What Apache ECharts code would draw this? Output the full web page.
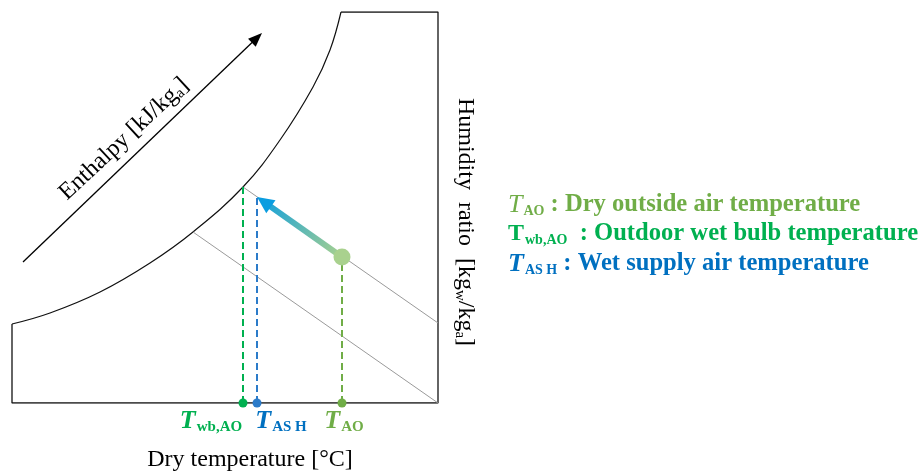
<!DOCTYPE html>
<html>
<head>
<meta charset="utf-8">
<script src="https://cdn.jsdelivr.net/npm/echarts@6/dist/echarts.min.js"></script>
<style>
  html, body { margin: 0; padding: 0; background: #fff; }
  #chart { width: 921px; height: 473px; }
</style>
</head>
<body>
<div id="chart"></div>
<script>
// Schematic psychrometric chart: dry temperature (x) vs humidity ratio (y)
const tempMax = 42.6;
const humMax = 39.1;

// Saturation curve points
const satTemp = [0, 3.8, 8.8, 13.8, 18.1, 23.1, 26.8, 30.1, 31.8, 32.9];
const satHum  = [7.9, 9.0, 11.1, 14.0, 17.1, 21.6, 26.3, 31.6, 35.3, 39.1];

// Two constant wet-bulb lines
const wetBulbA = [[18.1, 17.1], [42.6, 0]];
const wetBulbB = [[23.1, 21.6], [42.6, 8.0]];

// Enthalpy direction arrow
const enthalpyArrow = [1.1, 14.1, 25.0, 37.0];

// State points: wet bulb of outside air, wet supply air, dry outside air
const stateKeys = ['wb', 'ASH', 'AO'];
const stateTemp = [23.1, 24.5, 33.0];
const stateHum  = [21.6, 20.6, 14.6];

const serif = '"Liberation Serif", "Times New Roman", serif';
const C = { light: '#70ad47', green: '#00b050', blue: '#0070c0', blueLine: '#2b7bc9' };

const chart = echarts.init(document.getElementById('chart'), null, { renderer: 'canvas' });

const satCurve = satTemp.map((t, i) => [t, satHum[i]]);
const frame = [[satTemp[satTemp.length - 1], humMax], [tempMax, humMax], [tempMax, 0], [0, 0], [0, satHum[0]]];

function arrowRenderer(opt) {
  return function (params, api) {
    const a = api.coord([api.value(0), api.value(1)]);
    const b = api.coord([api.value(2), api.value(3)]);
    const dx = b[0] - a[0], dy = b[1] - a[1];
    const len = Math.hypot(dx, dy);
    const ux = dx / len, uy = dy / len;
    const nx = -uy, ny = ux;
    const base = [b[0] - ux * opt.headLen, b[1] - uy * opt.headLen];
    const bodyEnd = [b[0] - ux * opt.headLen * 0.7, b[1] - uy * opt.headLen * 0.7];
    const stroke = opt.colors.length > 1
      ? new echarts.graphic.LinearGradient(a[0], a[1], b[0], b[1],
          [{ offset: 0, color: opt.colors[0] }, { offset: 1, color: opt.colors[1] }], true)
      : opt.colors[0];
    return {
      type: 'group',
      children: [
        { type: 'line', shape: { x1: a[0], y1: a[1], x2: bodyEnd[0], y2: bodyEnd[1] },
          style: { stroke: stroke, lineWidth: opt.width, lineCap: 'butt' } },
        { type: 'polygon',
          shape: { points: [b,
            [base[0] + nx * opt.headHalf, base[1] + ny * opt.headHalf],
            [base[0] - nx * opt.headHalf, base[1] - ny * opt.headHalf]] },
          style: { fill: opt.colors[opt.colors.length - 1] } }
      ]
    };
  };
}

const stateStyle = {
  wb:  { color: C.green, lineColor: C.green, sub: 'wb,AO', offset: [-32, 0] },
  ASH: { color: C.blue, lineColor: C.blueLine, sub: 'AS H', offset: [24, 0] },
  AO:  { color: C.light, lineColor: C.light, sub: 'AO', offset: [2, 0] }
};

const series = [
  { type: 'line', data: satCurve, smooth: 0.4, symbol: 'none', silent: true,
    lineStyle: { color: '#111', width: 1.2 } },
  { type: 'line', data: frame, symbol: 'none', silent: true,
    lineStyle: { color: '#111', width: 1.3 } },
  { type: 'line', data: wetBulbA, symbol: 'none', silent: true,
    lineStyle: { color: '#9a9a9a', width: 1 } },
  { type: 'line', data: wetBulbB, symbol: 'none', silent: true,
    lineStyle: { color: '#9a9a9a', width: 1 } },
  { type: 'custom', renderItem: arrowRenderer({ width: 1.3, headLen: 14, headHalf: 5.5, colors: ['#000'] }),
    data: [enthalpyArrow], silent: true, z: 3 }
];

stateKeys.forEach((k, i) => {
  const st = stateStyle[k];
  series.push({
    type: 'line', data: [[stateTemp[i], 0], [stateTemp[i], stateHum[i]]], symbol: 'none', silent: true,
    lineStyle: { color: st.lineColor, width: 2, type: [7, 4] }, z: 4
  });
  series.push({
    type: 'scatter', data: [[stateTemp[i], 0]], symbol: 'circle', symbolSize: 9, silent: true, z: 6,
    itemStyle: { color: st.lineColor, opacity: 1 },
    label: {
      show: true, position: 'bottom', distance: 0, offset: st.offset, opacity: 1,
      formatter: '{t|T}{s|' + st.sub + '}',
      rich: {
        t: { fontFamily: serif, fontSize: 26, fontStyle: 'italic', fontWeight: 'bold', color: st.color, lineHeight: 28 },
        s: { fontFamily: serif, fontSize: 15, fontWeight: 'bold', color: st.color, padding: [12, 0, 0, 1], lineHeight: 15 }
      }
    }
  });
});

// Process arrow from dry outside air state to wet supply air state
const iAO = stateKeys.indexOf('AO'), iASH = stateKeys.indexOf('ASH');
series.push({
  type: 'custom', silent: true, z: 5,
  renderItem: arrowRenderer({ width: 6, headLen: 17, headHalf: 8, colors: ['#a9d18e', '#0a9de0'] }),
  data: [[stateTemp[iAO], stateHum[iAO], stateTemp[iASH], stateHum[iASH]]]
});
series.push({
  type: 'scatter', data: [[stateTemp[iAO], stateHum[iAO]]], symbolSize: 17, silent: true, z: 7,
  itemStyle: { color: '#a9d18e', opacity: 1 }
});

const nameRich = {
  n: { fontFamily: serif, fontSize: 24, fill: '#000', lineHeight: 28 },
  s: { fontFamily: serif, fontSize: 15, fill: '#000', padding: [10, 0, 0, 0], lineHeight: 15 }
};
const legendRich = (color) => ({
  ti: { fontFamily: serif, fontSize: 26, fontStyle: 'italic', fill: color, lineHeight: 30 },
  tb: { fontFamily: serif, fontSize: 26, fontStyle: 'italic', fontWeight: 'bold', fill: color, lineHeight: 30 },
  tn: { fontFamily: serif, fontSize: 24, fontWeight: 'bold', fill: color, lineHeight: 30 },
  s:  { fontFamily: serif, fontSize: 14, fontWeight: 'bold', fill: color, padding: [13, 0, 0, 1], lineHeight: 14 },
  b:  { fontFamily: serif, fontSize: 24.6, fontWeight: 'bold', fill: color, lineHeight: 30 }
});

const graphic = [
  { type: 'text', x: 250, y: 460, silent: true,
    style: { text: 'Dry temperature [°C]', fontFamily: serif, fontSize: 24, fill: '#000', align: 'center', verticalAlign: 'middle' } },
  { type: 'text', x: 465, y: 222, rotation: -Math.PI / 2, silent: true,
    style: { text: '{n|Humidity  ratio  [kg}{s|w}{n|/kg}{s|a}{n|]}', rich: nameRich, align: 'center', verticalAlign: 'middle' } },
  { type: 'text', x: 124, y: 139, rotation: 43 * Math.PI / 180, silent: true,
    style: { text: '{n|Enthalpy [kJ/kg}{s|a}{n|]}', rich: nameRich, align: 'center', verticalAlign: 'middle' } },
  { type: 'text', x: 508, y: 205, silent: true,
    style: { text: '{ti|T}{s|AO}{b| : Dry outside air temperature}', rich: legendRich(C.light), fill: C.light, align: 'left', verticalAlign: 'middle' } },
  { type: 'text', x: 508, y: 234, silent: true,
    style: { text: '{tn|T}{s|wb,AO}{b|  : Outdoor wet bulb temperature}', rich: legendRich(C.green), fill: C.green, align: 'left', verticalAlign: 'middle' } },
  { type: 'text', x: 508, y: 264, silent: true,
    style: { text: '{tb|T}{s|AS H}{b| : Wet supply air temperature}', rich: legendRich(C.blue), fill: C.blue, align: 'left', verticalAlign: 'middle' } }
];

chart.setOption({
  animation: false,
  backgroundColor: '#fff',
  grid: { left: 12, top: 12, width: 426, height: 391, containLabel: false },
  xAxis: { type: 'value', min: 0, max: tempMax, show: false },
  yAxis: { type: 'value', min: 0, max: humMax, show: false },
  series: series,
  graphic: graphic
});
</script>
</body>
</html>
